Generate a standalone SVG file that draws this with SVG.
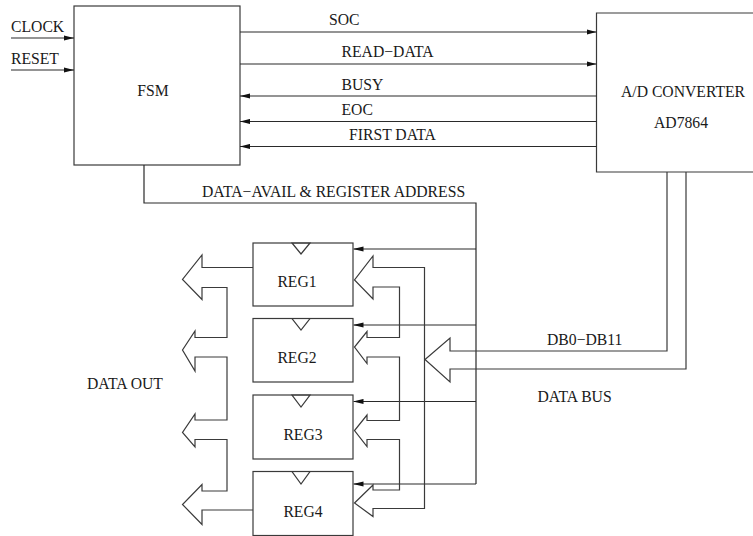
<svg xmlns="http://www.w3.org/2000/svg" width="753" height="536" viewBox="0 0 753 536">
  <style>
    .box { fill: none; stroke: #3a3a3a; stroke-width: 1.2; }
    .wire { fill: none; stroke: #2a2a2a; stroke-width: 1.2; }
    .bus { fill: none; stroke: #3a3a3a; stroke-width: 1.2; stroke-linejoin: miter; }
    .lbl { font-family: "Liberation Serif", "Times New Roman", serif; font-size: 15.7px; fill: #1a1a1a; }
    .mid { text-anchor: middle; }
  </style>
  <defs>
    <marker id="arrow" markerUnits="userSpaceOnUse" markerWidth="10" markerHeight="6" refX="10" refY="3" orient="auto">
      <path d="M0,0.4 L10,3 L0,5.6 Z" fill="#111"/>
    </marker>
  </defs>

  <rect width="753" height="536" fill="#fff"/>

  <!-- FSM controller -->
  <g id="fsm">
    <rect class="box" x="74" y="6" width="166" height="159"/>
    <text class="lbl mid" x="153" y="96">FSM</text>
  </g>

  <!-- A/D converter (box runs off the right edge) -->
  <g id="adc">
    <path class="box" d="M760,13 H596.5 V172 H760"/>
    <text class="lbl mid" x="683" y="97">A/D CONVERTER</text>
    <text class="lbl mid" x="681" y="128">AD7864</text>
  </g>

  <!-- register bank -->
  <g id="reg1">
    <rect class="box" x="253" y="243" width="100" height="63"/>
    <path class="box" d="M292,243 L310,243 L301,254 Z"/>
    <text class="lbl mid" x="297" y="287">REG1</text>
  </g>
  <g id="reg2">
    <rect class="box" x="253" y="318.5" width="100" height="63.5"/>
    <path class="box" d="M292,318.5 L310,318.5 L301,330 Z"/>
    <text class="lbl mid" x="297" y="363">REG2</text>
  </g>
  <g id="reg3">
    <rect class="box" x="253" y="395" width="100" height="64"/>
    <path class="box" d="M292,395 L310,395 L301,407 Z"/>
    <text class="lbl mid" x="303" y="440">REG3</text>
  </g>
  <g id="reg4">
    <rect class="box" x="253" y="471.5" width="100" height="64"/>
    <path class="box" d="M292,471.5 L310,471.5 L301,484 Z"/>
    <text class="lbl mid" x="303" y="517">REG4</text>
  </g>

  <!-- signals and buses -->
  <g id="connectors">
    <!-- external inputs -->
    <line class="wire" x1="11" y1="38" x2="74" y2="38" marker-end="url(#arrow)"/>
    <line class="wire" x1="11" y1="70" x2="74" y2="70" marker-end="url(#arrow)"/>

    <!-- FSM <-> ADC handshake -->
    <line class="wire" x1="240" y1="32" x2="596.5" y2="32" marker-end="url(#arrow)"/>
    <line class="wire" x1="240" y1="64" x2="596.5" y2="64" marker-end="url(#arrow)"/>
    <line class="wire" x1="596.5" y1="96" x2="240" y2="96" marker-end="url(#arrow)"/>
    <line class="wire" x1="596.5" y1="121.5" x2="240" y2="121.5" marker-end="url(#arrow)"/>
    <line class="wire" x1="596.5" y1="146.5" x2="240" y2="146.5" marker-end="url(#arrow)"/>

    <!-- data-avail / register address strobe line -->
    <path class="wire" d="M144,165 V203 H476 V484"/>
    <line class="wire" x1="476" y1="249" x2="353.5" y2="249" marker-end="url(#arrow)"/>
    <line class="wire" x1="476" y1="325" x2="353.5" y2="325" marker-end="url(#arrow)"/>
    <line class="wire" x1="476" y1="401.5" x2="353.5" y2="401.5" marker-end="url(#arrow)"/>
    <line class="wire" x1="476" y1="484" x2="353.5" y2="484" marker-end="url(#arrow)"/>

    <!-- ADC data bus -->
    <path class="bus" d="M667,172 V351 H450 V338 L425,359.5 L450,382 V369 H686 V172"/>

    <!-- bus fan-in to the registers -->
    <path class="bus" d="M424.5,508.5 V267.5 H373 V256 L354.5,280 L373,299 V287 H399.5 V337.5 H367 V331.5 L354.5,347 L367,363.5 V357 H399.5 V420.5 H367 V415 L354.5,430.5 L367,446.5 V439.5 H399.5 V490 H373 V485 L354.5,503 L373,516.5 V508.5 Z"/>

    <!-- register outputs -->
    <path class="bus" d="M253,267.5 H202 V255 L182.5,279.5 L202,299.5 V287.5 H227 V337.5 H195 V331 L182.5,350 L195,371 V357 H227 V420 H195 V414 L182.5,432.5 L195,447 V439.5 H227 V491 H202 V484.5 L182.5,504.5 L202,524.5 V510 H253"/>
  </g>

  <!-- labels -->
  <g id="labels">
    <text class="lbl" x="11" y="32">CLOCK</text>
    <text class="lbl" x="11" y="64">RESET</text>
    <text class="lbl" x="329" y="25">SOC</text>
    <text class="lbl" x="341.5" y="57">READ−DATA</text>
    <text class="lbl" x="341.5" y="90">BUSY</text>
    <text class="lbl" x="341.5" y="115">EOC</text>
    <text class="lbl" x="349" y="140">FIRST DATA</text>
    <text class="lbl" x="202" y="197">DATA−AVAIL &amp; REGISTER ADDRESS</text>
    <text class="lbl" x="547" y="345">DB0−DB11</text>
    <text class="lbl" x="537.5" y="402">DATA BUS</text>
    <text class="lbl" x="87" y="389">DATA OUT</text>
  </g>
</svg>
